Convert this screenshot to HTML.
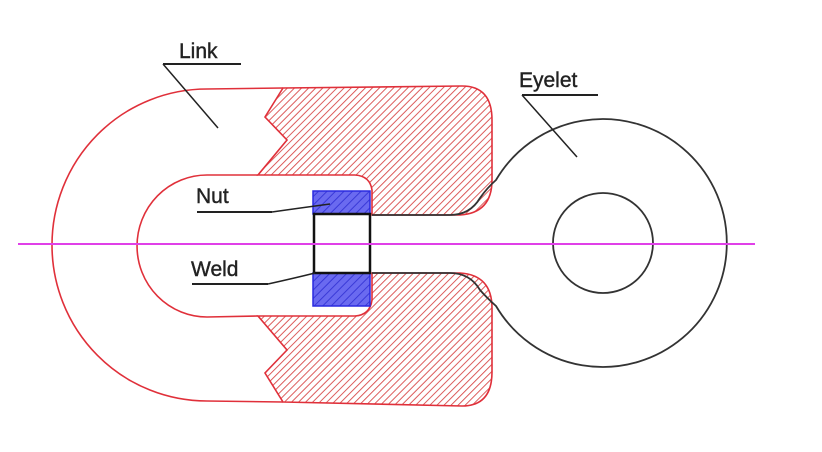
<!DOCTYPE html>
<html><head><style>html,body{margin:0;padding:0;background:#fff}svg{display:block}</style></head>
<body>
<svg width="822" height="452" viewBox="0 0 822 452" xmlns="http://www.w3.org/2000/svg" font-family="Liberation Sans, sans-serif">
<defs>
<pattern id="h" patternUnits="userSpaceOnUse" width="5" height="5" patternTransform="rotate(45)">
<rect width="5" height="5" fill="#fff"/>
<line x1="0" y1="0" x2="0" y2="5" stroke="#d84a4a" stroke-width="1.8"/>
</pattern>
<pattern id="hb" patternUnits="userSpaceOnUse" width="6" height="6" patternTransform="rotate(45)">
<rect width="6" height="6" fill="#6a6af0"/>
<line x1="0" y1="0" x2="0" y2="6" stroke="#3a3ad8" stroke-width="2"/>
</pattern>
</defs>
<path d="M283,88 L207,89 A155,156 0 0 0 207,401 L283,402" fill="none" stroke="#e0303a" stroke-width="1.6"/>
<path d="M258,175 L207,175 A70,71 0 0 0 207,317 L258,316" fill="none" stroke="#e0303a" stroke-width="1.6"/>
<path d="M283,88 L462,86 Q492,86 492,120 L492,180 Q492,213 460,215 L372,215 L372,190 Q370,176 355,175 L258,175 L287,140 L265,117 Z" fill="url(#h)" stroke="#e0303a" stroke-width="1.6"/>
<path d="M283,402 L462,406 Q492,406 492,372 L492,308 Q492,275 460,273 L372,273 L372,300 Q370,315 355,316 L258,316 L287,350 L265,373 Z" fill="url(#h)" stroke="#e0303a" stroke-width="1.6"/>
<rect x="313" y="191" width="57" height="23" fill="url(#hb)" stroke="#2a2ae0" stroke-width="1.5"/>
<rect x="313" y="273" width="57" height="33" fill="url(#hb)" stroke="#2a2ae0" stroke-width="1.5"/>
<rect x="314" y="214" width="56" height="59" fill="#fff" stroke="#111" stroke-width="2.5"/>
<path d="M372,215 L450,215 Q470,215 480,198 Q487,188 496,180 A124,124 0 1 1 496,306 Q487,298 480,290 Q470,273 450,273 L372,273" fill="none" stroke="#333" stroke-width="1.8"/>
<circle cx="603" cy="243" r="50" fill="none" stroke="#333" stroke-width="1.8"/>
<line x1="18" y1="244" x2="755" y2="244" stroke="#e040e8" stroke-width="2"/>
<g fill="#222" font-size="21" stroke="#222" stroke-width="0.4">
<text x="179" y="58">Link</text>
<text x="196" y="203">Nut</text>
<text x="191" y="276">Weld</text>
<text x="519" y="87">Eyelet</text>
</g>
<line x1="163" y1="64" x2="241" y2="64" stroke="#222" stroke-width="2"/>
<line x1="163" y1="64" x2="218" y2="128" stroke="#222" stroke-width="1.5"/>
<line x1="197" y1="212" x2="272" y2="212" stroke="#222" stroke-width="2"/>
<path d="M272,212 Q300,208 330,204" fill="none" stroke="#222" stroke-width="1.5"/>
<line x1="192" y1="284" x2="268" y2="284" stroke="#222" stroke-width="2"/>
<path d="M268,284 Q295,278 315,273" fill="none" stroke="#222" stroke-width="1.5"/>
<line x1="522" y1="95" x2="598" y2="95" stroke="#222" stroke-width="2"/>
<line x1="522" y1="95" x2="577" y2="157" stroke="#222" stroke-width="1.5"/>
</svg>
</body></html>
